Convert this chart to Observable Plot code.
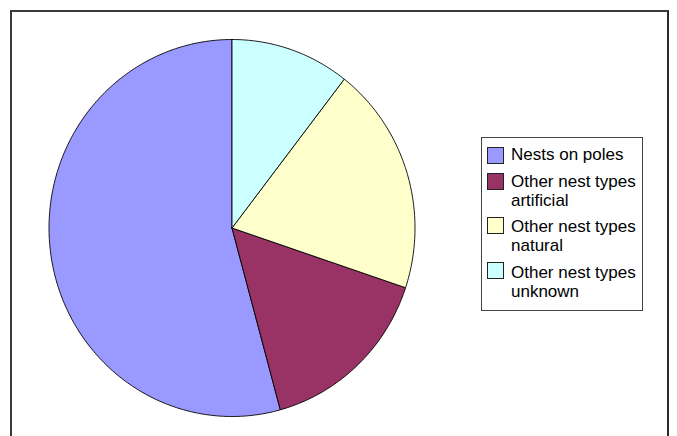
<!DOCTYPE html>
<html>
<head>
<meta charset="utf-8">
<script src="https://cdn.jsdelivr.net/npm/d3@7"></script>
<script src="https://cdn.jsdelivr.net/npm/@observablehq/plot@0.6"></script>
<style>
  html, body { margin: 0; padding: 0; background: #fff; }
  #wrap { position: relative; width: 677px; height: 436px; overflow: hidden; font-family: "Liberation Sans", Arial, sans-serif; }
  #frame { position: absolute; left: 10px; top: 10px; width: 659px; height: 440px; border: 2px solid #3a3a3a; border-right-color: #2a2a2a; box-sizing: border-box; }
  #chart { position: absolute; left: 0; top: 0; }
  #legend { position: absolute; left: 481px; top: 137px; width: 162px; height: 174px; border: 1.5px solid #444; box-sizing: border-box; background: #fff; }
  .item { position: absolute; left: 0; font-size: 17px; line-height: 19px; color: #000; }
  .sw { position: absolute; left: 5px; width: 17px; height: 17px; border: 1px solid #222; box-sizing: border-box; }
  .lab { position: absolute; left: 29px; white-space: nowrap; }
</style>
</head>
<body>
<div id="wrap">
  <div id="frame"></div>
  <div id="chart"></div>
  <div id="legend"></div>
</div>
<script>
// Data
const categories = ["Nests on poles", "Other nest types artificial", "Other nest types natural", "Other nest types unknown"];
const legendLines = [["Nests on poles"], ["Other nest types", "artificial"], ["Other nest types", "natural"], ["Other nest types", "unknown"]];
const values = [54.2, 15.6, 19.6, 10.5];
const colors = ["#9999FF", "#993366", "#FFFFCC", "#CCFFFF"];

// Build slice polygons from the data (counter-clockwise from 12 o'clock)
const total = d3.sum(values);
const pts = [];
let acc = 0;
values.forEach((v, i) => {
  const a0 = acc / total * 2 * Math.PI;
  acc += v;
  const a1 = acc / total * 2 * Math.PI;
  const n = Math.max(2, Math.ceil((a1 - a0) / (Math.PI / 240)));
  pts.push({cat: categories[i], x: 0, y: 0});
  for (let k = 0; k <= n; k++) {
    const a = a0 + (a1 - a0) * k / n;
    pts.push({cat: categories[i], x: -Math.sin(a), y: Math.cos(a)});
  }
  pts.push({cat: categories[i], x: 0, y: 0});
});

const cx = 231.5, cy = 227.5, rx = 183, ry = 188.5;
const W = 677, H = 436;
const plot = Plot.plot({
  width: W,
  height: H,
  marginLeft: cx - rx,
  marginRight: W - (cx + rx),
  marginTop: cy - ry,
  marginBottom: H - (cy + ry),
  x: {domain: [-1, 1], axis: null},
  y: {domain: [-1, 1], axis: null},
  color: {domain: categories, range: colors},
  style: {background: "transparent", overflow: "visible"},
  marks: [
    Plot.line(pts, {x: "x", y: "y", z: "cat", fill: "cat", stroke: "#000", strokeWidth: 0.9, strokeLinejoin: "round", curve: "linear"})
  ]
});
document.getElementById("chart").appendChild(plot);

// Legend
const lg = document.getElementById("legend");
const swTops = [9, 35, 79, 124];
const labTops = [7, 34, 79, 125];
legendLines.forEach((lines, i) => {
  const sw = document.createElement("div");
  sw.className = "sw";
  sw.style.top = swTops[i] + "px";
  sw.style.background = colors[i];
  lg.appendChild(sw);
  const lab = document.createElement("div");
  lab.className = "item lab";
  lab.style.top = labTops[i] + "px";
  lab.innerHTML = lines.join("<br>");
  lg.appendChild(lab);
});
</script>
</body>
</html>
